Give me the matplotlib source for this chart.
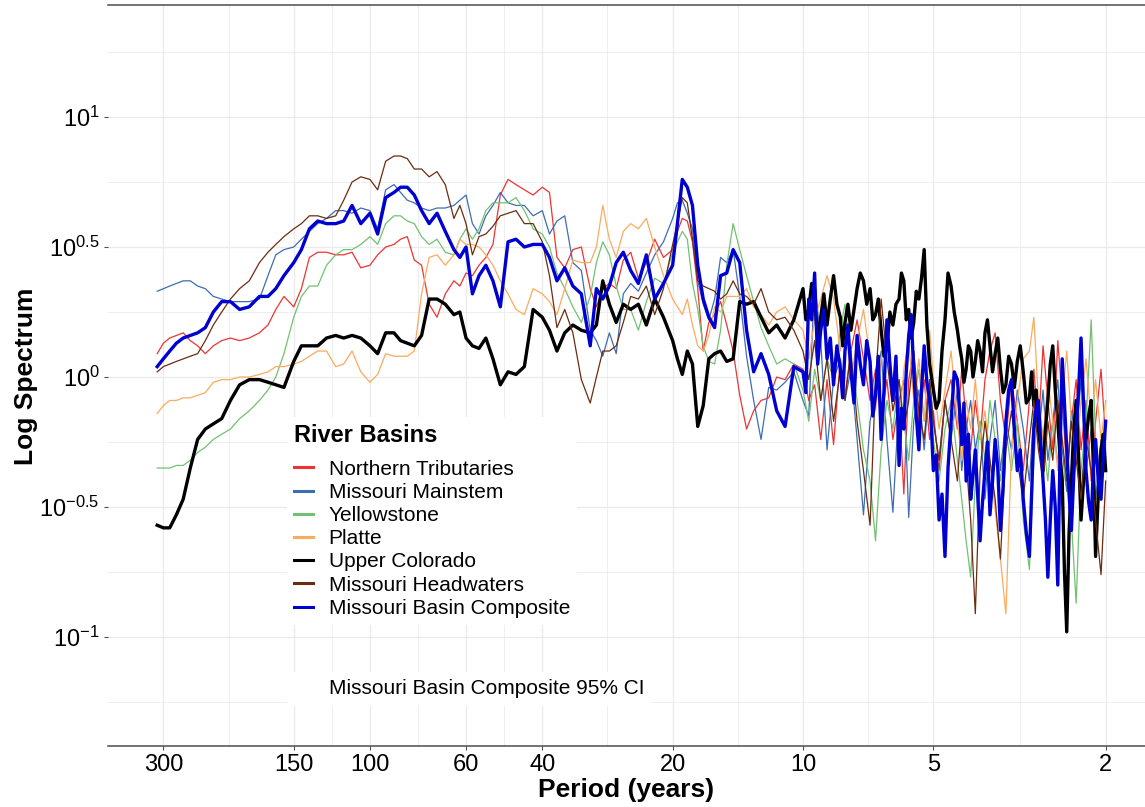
import numpy as np
import matplotlib
matplotlib.use("Agg")
import matplotlib.pyplot as plt
from matplotlib.lines import Line2D
from matplotlib.patches import Patch
from matplotlib.ticker import FixedLocator, NullFormatter

plt.rcParams["font.family"] = ["Liberation Sans", "DejaVu Sans"]
plt.rcParams["mathtext.fontset"] = "custom"
plt.rcParams["mathtext.rm"] = "Liberation Sans"
plt.rcParams["mathtext.it"] = "Liberation Sans:italic"
plt.rcParams["mathtext.bf"] = "Liberation Sans:bold"

# Spectral periods (years) shared by the individual basins
period = [310, 300, 290, 280, 270, 260, 250, 240, 230, 220, 210, 200, 190, 180, 172, 165, 158, 150, 144, 138,
          132, 126, 120, 115, 110, 105, 100, 96, 92, 88, 85, 82, 79, 76, 73, 70, 67, 64, 62, 60,
          58, 56, 54, 52, 50, 48, 46, 44, 42, 40, 38.5, 37, 35.5, 34, 32.5, 31, 30, 29, 28, 27,
          26, 25, 24, 23, 22, 21, 20, 19.5, 19, 18.5, 18, 17.5, 17, 16.5, 16, 15.5, 15, 14.5, 14, 13.5,
          13, 12.5, 12, 11.5, 11, 10.5,
          10, 9.7, 9.4, 9.1, 8.8, 8.5, 8.2, 8.0, 7.75, 7.5, 7.25, 7.0, 6.8, 6.6, 6.4, 6.2, 6.0, 5.85,
          5.7, 5.55, 5.4, 5.25, 5.1, 5.0, 4.85, 4.7, 4.55, 4.4, 4.3, 4.2, 4.1, 4.0, 3.9, 3.8, 3.7, 3.6,
          3.5, 3.4, 3.3, 3.2, 3.1, 3.0, 2.93, 2.86, 2.79, 2.72, 2.65, 2.58, 2.52, 2.46, 2.4, 2.34,
          2.28, 2.22, 2.16, 2.11, 2.05, 2.0]

# Finer short-period grid (10 to 2 years) used by the two heavy spectra
period_fine = [10, 9.85, 9.7, 9.55, 9.4, 9.25, 9.1, 8.95, 8.8, 8.65, 8.5, 8.35, 8.2, 8.1, 8.0, 7.875, 7.75, 7.625,
               7.5, 7.375, 7.25, 7.125, 7.0, 6.9, 6.8, 6.7, 6.6, 6.5, 6.4, 6.3, 6.2, 6.1, 6.0, 5.925, 5.85,
               5.775, 5.7, 5.625, 5.55, 5.475, 5.4, 5.325, 5.25, 5.175, 5.1, 5.05, 5.0, 4.925, 4.85, 4.775,
               4.7, 4.625, 4.55, 4.475, 4.4, 4.35, 4.3, 4.25, 4.2, 4.15, 4.1, 4.05, 4.0, 3.95, 3.9, 3.85,
               3.8, 3.75, 3.7, 3.65, 3.6, 3.55, 3.5, 3.45, 3.4, 3.35, 3.3, 3.25, 3.2, 3.15, 3.1, 3.05, 3.0,
               2.965, 2.93, 2.895, 2.86, 2.825, 2.79, 2.755, 2.72, 2.685, 2.65, 2.615, 2.58, 2.55, 2.52,
               2.49, 2.46, 2.43, 2.4, 2.37, 2.34, 2.31, 2.28, 2.25, 2.22, 2.19, 2.16, 2.135, 2.11, 2.08,
               2.05, 2.025, 2.0]

# log10 of the spectral power for each basin
northern_tributaries = [
    0.09, 0.13, 0.15, 0.16, 0.17, 0.14, 0.12, 0.09, 0.12, 0.14, 0.15, 0.14, 0.15, 0.17, 0.20, 0.26, 0.31, 0.27, 0.34, 0.46,
    0.48, 0.48, 0.47, 0.47, 0.48, 0.42, 0.43, 0.47, 0.50, 0.51, 0.53, 0.54, 0.45, 0.43, 0.28, 0.23, 0.32, 0.37, 0.35, 0.40,
    0.39, 0.43, 0.46, 0.51, 0.70, 0.76, 0.74, 0.72, 0.70, 0.73, 0.71, 0.46, 0.42, 0.49, 0.50, 0.34, 0.27, 0.34, 0.36, 0.34,
    0.45, 0.48, 0.38, 0.44, 0.53, 0.46, 0.49, 0.56, 0.61, 0.60, 0.52, 0.34, 0.10, 0.21, 0.24, 0.29, 0.20, 0.10, -0.07, -0.20,
    -0.13, -0.09, -0.08, 0.00, -0.01, 0.05,
    0.03, -0.09, -0.03, -0.24, -0.01, -0.26, 0.07, -0.07, 0.10, 0.22, 0.07, -0.09, 0.03, -0.17, -0.01, -0.24, -0.09, -0.45,
    -0.01, 0.10, -0.17, -0.01, -0.24, -0.13, -0.36, -0.09, -0.01, -0.20, 0.03, -0.17, -0.28, -0.09, -0.24, -0.01, 0.10, 0.17,
    -0.09, -0.24, -0.01, -0.17, -0.36, -0.09, 0.03, -0.20, 0.12, -0.09, -0.28, 0.14, -0.09, -0.36, -0.17, -0.01, -0.28, -0.09,
    -0.40, -0.17, 0.03, -0.24]

missouri_mainstem = [
    0.33, 0.34, 0.35, 0.36, 0.37, 0.37, 0.35, 0.34, 0.31, 0.30, 0.29, 0.29, 0.29, 0.30, 0.39, 0.47, 0.49, 0.50, 0.53, 0.56,
    0.59, 0.61, 0.64, 0.64, 0.63, 0.65, 0.64, 0.57, 0.72, 0.74, 0.71, 0.68, 0.67, 0.65, 0.64, 0.65, 0.65, 0.66, 0.68, 0.70,
    0.59, 0.55, 0.62, 0.66, 0.71, 0.67, 0.66, 0.66, 0.62, 0.64, 0.55, 0.60, 0.62, 0.44, 0.41, 0.18, 0.14, 0.08, 0.17, 0.09,
    0.32, 0.36, 0.33, 0.40, 0.47, 0.52, 0.61, 0.67, 0.68, 0.63, 0.57, 0.37, 0.28, 0.22, 0.30, 0.46, 0.44, 0.49, 0.31, 0.08,
    -0.09, -0.24, -0.04, -0.05, -0.02, 0.02,
    -0.09, -0.15, 0.37, 0.14, -0.28, -0.01, 0.07, -0.09, 0.03, -0.24, -0.53, -0.17, -0.05, 0.10, -0.24, -0.52, -0.09, -0.01,
    -0.54, -0.17, -0.05, -0.28, -0.01, -0.17, -0.32, -0.09, -0.24, -0.05, -0.36, -0.20, -0.09, -0.28, -0.17, -0.47, -0.24, -0.09,
    -0.36, -0.17, -0.28, -0.05, -0.20, -0.40, -0.13, -0.24, -0.05, -0.32, -0.17, -0.01, -0.28, -0.44, -0.13, -0.24, -0.01, -0.36,
    -0.20, -0.47, -0.24, -0.32]

yellowstone = [
    -0.35, -0.35, -0.35, -0.34, -0.34, -0.32, -0.29, -0.27, -0.24, -0.22, -0.20, -0.16, -0.13, -0.09, -0.05, 0.00, 0.09, 0.23, 0.31, 0.35,
    0.35, 0.43, 0.47, 0.49, 0.49, 0.51, 0.54, 0.51, 0.59, 0.62, 0.62, 0.60, 0.59, 0.54, 0.51, 0.53, 0.48, 0.47, 0.53, 0.57,
    0.53, 0.57, 0.64, 0.67, 0.67, 0.67, 0.69, 0.64, 0.57, 0.55, 0.50, 0.40, 0.34, 0.27, 0.21, 0.31, 0.44, 0.52, 0.47, 0.35,
    0.26, 0.26, 0.18, 0.29, 0.38, 0.36, 0.48, 0.52, 0.56, 0.53, 0.36, 0.26, 0.12, 0.06, 0.05, 0.18, 0.43, 0.59, 0.49, 0.39,
    0.29, 0.19, 0.12, 0.05, 0.07, 0.05,
    -0.05, -0.17, 0.03, -0.09, 0.07, -0.01, 0.18, 0.28, 0.07, -0.09, -0.28, -0.40, -0.63, -0.28, -0.09, -0.20, -0.01, -0.17,
    -0.32, -0.09, 0.03, -0.17, -0.05, -0.24, -0.40, -0.20, -0.09, -0.32, -0.47, -0.63, -0.77, -0.40, -0.17, -0.32, -0.09, -0.24,
    -0.40, -0.20, -0.36, -0.17, -0.55, -0.74, -0.32, -0.09, -0.24, -0.40, -0.17, -0.32, -0.47, -0.24, -0.55, -0.87, -0.36, -0.17,
    0.22, -0.24, -0.40, -0.20]

platte = [
    -0.14, -0.11, -0.09, -0.09, -0.08, -0.08, -0.07, -0.06, -0.02, -0.01, -0.01, 0.00, 0.00, 0.01, 0.02, 0.04, 0.04, 0.05, 0.06, 0.08,
    0.10, 0.10, 0.04, 0.05, 0.10, 0.02, -0.02, 0.01, 0.09, 0.08, 0.08, 0.08, 0.10, 0.32, 0.46, 0.47, 0.43, 0.47, 0.53, 0.51,
    0.51, 0.50, 0.47, 0.43, 0.37, 0.32, 0.26, 0.24, 0.34, 0.32, 0.29, 0.24, 0.34, 0.45, 0.44, 0.44, 0.50, 0.66, 0.53, 0.46,
    0.56, 0.59, 0.57, 0.61, 0.50, 0.39, 0.30, 0.27, 0.24, 0.30, 0.20, 0.12, 0.10, 0.16, 0.27, 0.25, 0.31, 0.31, 0.31, 0.34,
    0.27, 0.24, 0.20, 0.25, 0.27, 0.22,
    0.18, 0.07, 0.22, 0.30, 0.39, 0.30, 0.10, 0.22, -0.01, 0.14, 0.26, 0.07, -0.13, 0.07, 0.18, -0.05, -0.20, 0.03,
    0.14, -0.09, 0.07, -0.17, 0.18, -0.01, -0.20, -0.05, 0.10, -0.17, -0.32, -0.09, -0.20, -0.01, -0.24, -0.13, -0.32, -0.51,
    -0.70, -0.91, -0.28, -0.09, 0.07, 0.10, 0.23, -0.09, -0.24, -0.01, -0.17, -0.36, -0.09, 0.10, -0.17, -0.32, -0.09, 0.07,
    -0.17, -0.01, -0.24, -0.09]

# Upper Colorado: first 86 values on `period` (310-10.5 yr), then 115 values on `period_fine`
upper_colorado = [
    -0.57, -0.58, -0.58, -0.53, -0.47, -0.35, -0.24, -0.20, -0.18, -0.16, -0.09, -0.03, -0.01, -0.01, -0.02, -0.03, -0.04, 0.06, 0.12, 0.12,
    0.12, 0.15, 0.16, 0.15, 0.16, 0.15, 0.12, 0.09, 0.17, 0.17, 0.14, 0.13, 0.12, 0.16, 0.30, 0.30, 0.28, 0.24, 0.25, 0.15,
    0.12, 0.11, 0.15, 0.07, -0.03, 0.02, 0.01, 0.04, 0.26, 0.23, 0.18, 0.10, 0.17, 0.20, 0.18, 0.17, 0.20, 0.37, 0.28, 0.21,
    0.28, 0.26, 0.28, 0.20, 0.30, 0.23, 0.14, 0.07, 0.01, 0.10, 0.05, -0.19, -0.11, 0.07, 0.09, 0.10, 0.06, 0.07, 0.29, 0.28,
    0.29, 0.23, 0.17, 0.20, 0.15, 0.22,
    0.34, 0.22, 0.26, 0.36, 0.30, 0.15, 0.23, 0.32, 0.20, 0.30,
    0.39, 0.28, 0.23, 0.12, 0.21, 0.28, 0.18, 0.26, 0.34, 0.40,
    0.37, 0.28, 0.34, 0.22, 0.24, 0.30, 0.18, 0.08, 0.12, 0.25,
    0.20, 0.28, 0.30, 0.40, 0.37, 0.22, 0.26, 0.15, 0.21, 0.33,
    0.30, 0.38, 0.49, 0.20, 0.05, 0.00, -0.05, -0.12, -0.09, 0.10,
    0.22, 0.40, 0.35, 0.25, 0.18, 0.12, 0.07, -0.02, 0.03, 0.12,
    0.10, 0.00, 0.06, 0.14, 0.10, 0.02, 0.17, 0.22, 0.12, 0.02,
    0.09, 0.15, 0.03, -0.06, -0.03, 0.08, 0.05, -0.04, 0.06, 0.12,
    0.02, -0.10, -0.08, 0.02, -0.11, -0.05, -0.20, -0.28, -0.36, -0.20,
    -0.09, 0.05, 0.12, -0.05, -0.17, -0.30, -0.40, -0.75, -0.98, -0.60,
    -0.40, -0.20, -0.09, -0.30, -0.55, -0.40, -0.24, -0.15, -0.09, -0.35,
    -0.69, -0.45, -0.28, -0.22, -0.36]

missouri_headwaters = [
    0.02, 0.04, 0.05, 0.06, 0.07, 0.08, 0.09, 0.14, 0.20, 0.25, 0.30, 0.34, 0.37, 0.44, 0.48, 0.51, 0.54, 0.57, 0.59, 0.62,
    0.62, 0.61, 0.62, 0.68, 0.75, 0.77, 0.76, 0.72, 0.83, 0.85, 0.85, 0.84, 0.80, 0.80, 0.77, 0.79, 0.74, 0.61, 0.66, 0.59,
    0.47, 0.54, 0.55, 0.58, 0.62, 0.63, 0.64, 0.59, 0.59, 0.52, 0.39, 0.19, 0.26, 0.17, -0.01, -0.10, 0.00, 0.10, 0.10, 0.12,
    0.21, 0.31, 0.30, 0.35, 0.24, 0.34, 0.51, 0.59, 0.69, 0.67, 0.53, 0.37, 0.35, 0.34, 0.33, 0.30, 0.32, 0.37, 0.32, 0.31,
    0.28, 0.34, 0.25, 0.22, 0.23, 0.18,
    0.10, -0.01, 0.14, -0.09, 0.07, -0.17, 0.03, -0.09, 0.10, -0.17, -0.36, -0.57, -0.01, 0.30, 0.07, -0.13, -0.01, -0.20,
    -0.09, 0.10, -0.13, -0.24, -0.01, -0.17, -0.32, -0.09, -0.24, -0.40, -0.17, -0.32, -0.55, -0.91, -0.36, -0.17, -0.32, -0.47,
    -0.70, -0.28, -0.13, -0.32, -0.47, -0.24, -0.09, -0.28, -0.40, -0.17, -0.32, -0.09, -0.24, -0.40, -0.17, -0.32, -0.47, -0.24,
    -0.36, -0.55, -0.76, -0.40]

# Composite: first 86 values on `period` (310-10.5 yr), then 115 values on `period_fine`
basin_composite = [
    0.04, 0.07, 0.10, 0.13, 0.15, 0.16, 0.17, 0.19, 0.25, 0.29, 0.29, 0.26, 0.27, 0.31, 0.31, 0.34, 0.39, 0.44, 0.49, 0.57,
    0.60, 0.59, 0.59, 0.60, 0.66, 0.59, 0.63, 0.55, 0.69, 0.71, 0.73, 0.73, 0.70, 0.64, 0.59, 0.63, 0.56, 0.49, 0.46, 0.50,
    0.32, 0.39, 0.43, 0.37, 0.27, 0.52, 0.53, 0.50, 0.51, 0.51, 0.46, 0.37, 0.42, 0.35, 0.32, 0.12, 0.34, 0.30, 0.35, 0.44,
    0.48, 0.41, 0.36, 0.47, 0.30, 0.36, 0.43, 0.59, 0.76, 0.73, 0.66, 0.43, 0.30, 0.23, 0.19, 0.39, 0.40, 0.49, 0.44, 0.18,
    0.02, 0.09, 0.01, -0.13, -0.19, 0.04,
    0.02, -0.06, 0.30, 0.22, 0.40, 0.05, 0.18, 0.26, 0.07, 0.15,
    -0.03, 0.12, 0.03, -0.08, 0.10, 0.20, 0.02, -0.10, 0.16, 0.05,
    -0.03, 0.14, 0.06, -0.15, -0.07, 0.08, -0.24, -0.05, 0.22, 0.05,
    -0.09, 0.08, -0.34, -0.12, -0.20, 0.02, 0.16, 0.24, 0.02, -0.15,
    -0.28, -0.05, 0.12, -0.02, -0.09, -0.20, -0.36, -0.30, -0.55, -0.45,
    -0.69, -0.35, -0.17, 0.02, -0.01, -0.12, -0.26, -0.10, -0.40, -0.22,
    -0.47, -0.38, -0.28, -0.45, -0.63, -0.48, -0.36, -0.25, -0.53, -0.40,
    -0.24, -0.35, -0.59, -0.42, -0.17, -0.05, -0.01, -0.20, -0.36, -0.28,
    -0.47, -0.60, -0.69, -0.45, -0.20, -0.12, -0.09, -0.25, -0.40, -0.55,
    -0.77, -0.55, -0.36, -0.50, -0.80, -0.30, 0.07, -0.10, -0.28, -0.45,
    -0.59, -0.38, -0.20, -0.05, 0.15, -0.10, -0.36, -0.48, -0.55, -0.35,
    -0.24, -0.40, -0.47, -0.30, -0.17]

basin_names = ["Northern Tributaries", "Missouri Mainstem", "Yellowstone", "Platte",
               "Upper Colorado", "Missouri Headwaters", "Missouri Basin Composite"]
basin_series = [northern_tributaries, missouri_mainstem, yellowstone, platte,
                upper_colorado, missouri_headwaters, basin_composite]
basin_colors = ["#EE3333", "#3D6DB3", "#72C172", "#FCAA5E", "#000000", "#6B2C10", "#0000D0"]
basin_widths = [0.9, 0.9, 0.9, 0.9, 2.4, 0.9, 2.4]
fine_basins = {"Upper Colorado", "Missouri Basin Composite"}

period_ticks = [300, 150, 100, 60, 40, 20, 10, 5, 2]
log_ticks = [1, 0.5, 0, -0.5, -1]
log_tick_labels = [r"$10^{1}$", r"$10^{0.5}$", r"$10^{0}$", r"$10^{-0.5}$", r"$10^{-1}$"]

W, H = 1145, 807
fig = plt.figure(figsize=(W / 100, H / 100), dpi=100)
ax = fig.add_axes([108 / W, 1 - 746 / H, (W - 108) / W, (746 - 5) / H])

mixed_period = period[:86] + period_fine
for name, vals, col, lw in zip(basin_names, basin_series, basin_colors, basin_widths):
    per = mixed_period if name in fine_basins else period
    assert len(vals) == len(per), name
    freq = 1.0 / np.asarray(per, dtype=float)
    ax.plot(freq, np.power(10.0, vals), color=col, lw=lw, solid_joinstyle="round")

ax.set_xscale("log")
ax.set_yscale("log")
ax.set_xlim(1 / 402.7, 1 / 1.6226)
ax.set_ylim(10 ** -1.419, 10 ** 1.4308)

xt = 1.0 / np.asarray(period_ticks, dtype=float)
ax.xaxis.set_major_locator(FixedLocator(xt))
ax.set_xticklabels([str(p) for p in period_ticks])
ax.xaxis.set_minor_locator(FixedLocator(np.sqrt(xt[:-1] * xt[1:])))
ax.xaxis.set_minor_formatter(NullFormatter())

yt = np.power(10.0, log_ticks)
ax.yaxis.set_major_locator(FixedLocator(yt))
ax.set_yticklabels(log_tick_labels)
ax.yaxis.set_minor_locator(FixedLocator(np.power(10.0, [1.25, 0.75, 0.25, -0.25, -0.75, -1.25])))
ax.yaxis.set_minor_formatter(NullFormatter())

ax.grid(which="major", color="#EBEBEB", lw=1.0)
ax.grid(which="minor", color="#EBEBEB", lw=0.6)
ax.set_axisbelow(True)

for side in ["left", "right"]:
    ax.spines[side].set_visible(False)
for side in ["top", "bottom"]:
    ax.spines[side].set_color("#4D4D4D")
    ax.spines[side].set_linewidth(1.1)

ax.tick_params(axis="both", which="major", length=3, width=0.8, color="#4D4D4D",
               labelsize=17, labelcolor="black", pad=3)
ax.tick_params(axis="both", which="minor", length=0)
ax.tick_params(axis="x", top=False)

fig.text(626.5 / W, 1 - 790 / H, "Period (years)", ha="center", va="center",
         fontsize=19, fontweight="bold")
fig.text(26 / W, 1 - 376 / H, "Log Spectrum", ha="center", va="center",
         fontsize=19, fontweight="bold", rotation=90)

handles = [Line2D([], [], color=c, lw=2.2) for c in basin_colors]
leg = ax.legend(handles, basin_names, title="River Basins", loc="upper left",
                bbox_to_anchor=(287 / W, 1 - 417 / H), bbox_transform=fig.transFigure,
                borderaxespad=0, frameon=True, fancybox=False, framealpha=1,
                facecolor="white", edgecolor="none", fontsize=15,
                title_fontproperties={"weight": "bold", "size": 17},
                handlelength=0.9, handletextpad=0.75, labelspacing=0.2,
                borderpad=0.35, alignment="left")
leg._legend_box.sep = 9.0  # gap (points) between the title and the first entry
ax.add_artist(leg)

ci_handle = [Patch(facecolor="white", edgecolor="none")]
ax.legend(ci_handle, ["Missouri Basin Composite 95% CI"], loc="upper left",
          bbox_to_anchor=(287 / W, 1 - 672 / H), bbox_transform=fig.transFigure,
          borderaxespad=0, frameon=True, fancybox=False, framealpha=1,
          facecolor="white", edgecolor="none", fontsize=15,
          handlelength=0.9, handletextpad=0.75, borderpad=0.35)

fig.savefig("out.png", dpi=100)
